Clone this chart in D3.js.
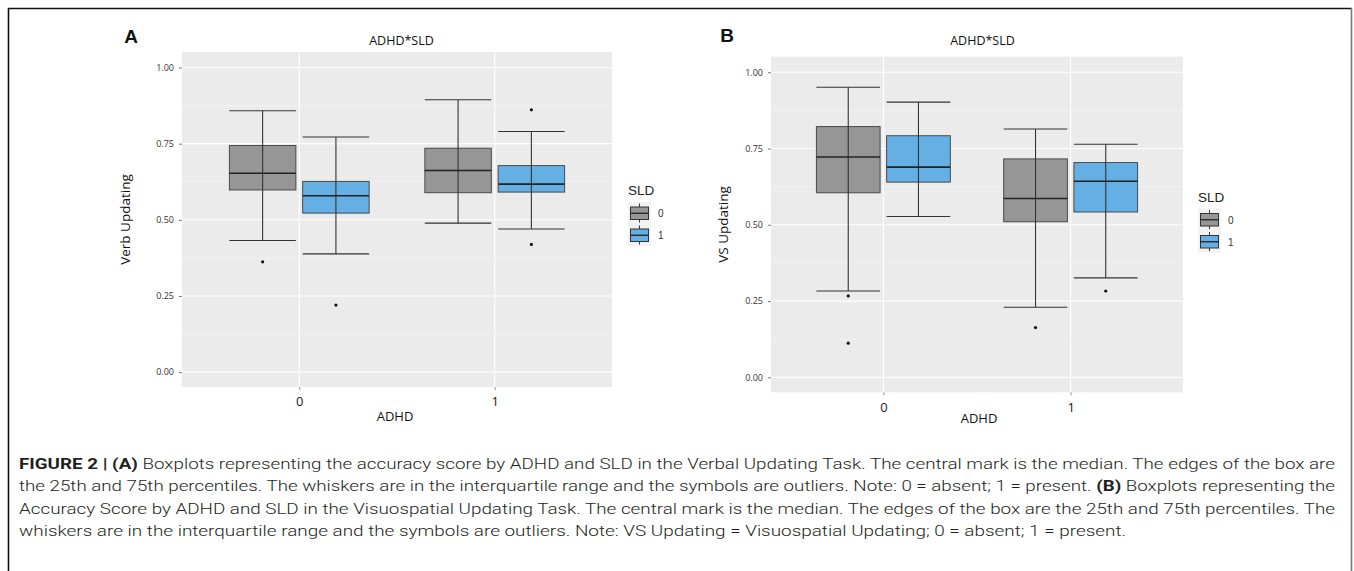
<!DOCTYPE html>
<html><head><meta charset="utf-8">
<script src="https://cdn.jsdelivr.net/npm/d3@7"></script>
<style>body{margin:0;background:#fff;} svg{display:block;}</style>
</head><body>
<svg id="fig" width="1354" height="571"></svg>
<script>
// ---------- data ----------
const adhdLevels = ["0", "1"];
const sldLevels = ["0", "1"];
const groupADHD = ["0", "0", "1", "1"];
const groupSLD  = ["0", "1", "0", "1"];

// Panel A: Verbal Updating
const verbWhiskerLow  = [0.432, 0.388, 0.489, 0.470];
const verbQ1          = [0.598, 0.522, 0.589, 0.591];
const verbMedian      = [0.653, 0.579, 0.662, 0.617];
const verbQ3          = [0.744, 0.626, 0.735, 0.678];
const verbWhiskerHigh = [0.858, 0.772, 0.894, 0.790];
const verbOutliers    = [[0.362], [0.220], [], [0.861, 0.419]];

// Panel B: Visuospatial Updating
const vsWhiskerLow  = [0.283, 0.527, 0.230, 0.326];
const vsQ1          = [0.605, 0.640, 0.510, 0.542];
const vsMedian      = [0.722, 0.689, 0.586, 0.643];
const vsQ3          = [0.822, 0.792, 0.716, 0.704];
const vsWhiskerHigh = [0.951, 0.902, 0.814, 0.764];
const vsOutliers    = [[0.267, 0.112], [], [0.163], [0.283]];

const yTickValues = [0, 0.25, 0.5, 0.75, 1];
const yMinorValues = [0.125, 0.375, 0.625, 0.875];
const sldColors = ["#969696", "#64afe3"];

const captionLines = [
  [["FIGURE 2 | ", true], ["(A)", true], [" Boxplots representing the accuracy score by ADHD and SLD in the Verbal Updating Task. The central mark is the median. The edges of the box are", false]],
  [["the 25th and 75th percentiles. The whiskers are in the interquartile range and the symbols are outliers. Note: 0 = absent; 1 = present. ", false], ["(B)", true], [" Boxplots representing the", false]],
  [["Accuracy Score by ADHD and SLD in the Visuospatial Updating Task. The central mark is the median. The edges of the box are the 25th and 75th percentiles. The", false]],
  [["whiskers are in the interquartile range and the symbols are outliers. Note: VS Updating = Visuospatial Updating; 0 = absent; 1 = present.", false]]
];

// ---------- drawing ----------
const svg = d3.select("#fig");

// outer frame
svg.append("path").attr("d", "M8.5,575 V8.5 H1351.5").attr("fill", "none").attr("stroke", "#111").attr("stroke-width", 1.6);
svg.append("line").attr("x1", 1351.5).attr("x2", 1351.5).attr("y1", 8.5).attr("y2", 575).attr("stroke", "#777").attr("stroke-width", 1.6);

function drawPanel(cfg) {
  const x = d3.scalePoint().domain(adhdLevels).range([cfg.left, cfg.right]).padding(0.6);
  const y = d3.scaleLinear().domain([-0.049, 1.051]).range([cfg.bottom, cfg.top]);
  const step = x.step();
  const g = svg.append("g");

  // panel background
  g.append("rect").attr("x", cfg.left).attr("y", cfg.top)
    .attr("width", cfg.right - cfg.left).attr("height", cfg.bottom - cfg.top).attr("fill", "#ebebeb");
  // minor grid
  g.selectAll(".minor").data(yMinorValues).join("line")
    .attr("x1", cfg.left).attr("x2", cfg.right)
    .attr("y1", d => y(d)).attr("y2", d => y(d))
    .attr("stroke", "#f6f6f6").attr("stroke-width", 0.6);
  // major grid
  g.selectAll(".major").data(yTickValues).join("line")
    .attr("x1", cfg.left).attr("x2", cfg.right)
    .attr("y1", d => y(d)).attr("y2", d => y(d))
    .attr("stroke", "#fff").attr("stroke-width", 1.1);
  g.selectAll(".vmajor").data(adhdLevels).join("line")
    .attr("x1", d => x(d)).attr("x2", d => x(d))
    .attr("y1", cfg.top).attr("y2", cfg.bottom)
    .attr("stroke", "#fff").attr("stroke-width", 1.1);

  // axes
  const ya = g.append("g").attr("transform", `translate(${cfg.left},0)`)
    .call(d3.axisLeft(y).tickValues(yTickValues).tickFormat(d3.format(".2f")).tickSize(3).tickPadding(5));
  ya.select(".domain").remove();
  ya.selectAll("line").attr("stroke", "#555").attr("stroke-width", 0.8);
  ya.selectAll("text").attr("font-family", "Open Sans").attr("font-size", 9).attr("fill", "#333");

  const xa = g.append("g").attr("transform", `translate(0,${cfg.bottom})`)
    .call(d3.axisBottom(x).tickSize(3).tickPadding(7));
  xa.select(".domain").remove();
  xa.selectAll("line").attr("stroke", "#777").attr("stroke-width", 0.8);
  xa.selectAll("text").attr("font-family", "Open Sans").attr("font-size", 13).attr("fill", "#1a1a1a");

  // boxes
  const off = 0.1875 * step, hw = 0.17 * step;
  const idx = d3.range(groupADHD.length);
  const cx = i => x(groupADHD[i]) + (groupSLD[i] === "0" ? -off : off);
  const col = i => sldColors[sldLevels.indexOf(groupSLD[i])];

  idx.forEach(i => {
    const c = cx(i);
    const bg = g.append("g");
    bg.append("rect").attr("x", c - hw).attr("width", 2 * hw)
      .attr("y", y(cfg.q3[i])).attr("height", y(cfg.q1[i]) - y(cfg.q3[i]))
      .attr("fill", col(i)).attr("stroke", "#4a4a4a").attr("stroke-width", 1);
    bg.append("line").attr("x1", c).attr("x2", c)
      .attr("y1", y(cfg.wl[i])).attr("y2", y(cfg.wh[i]))
      .attr("stroke", "#333").attr("stroke-width", 1.1);
    [cfg.wl[i], cfg.wh[i]].forEach(v => {
      bg.append("line").attr("x1", c - hw).attr("x2", c + hw)
        .attr("y1", y(v)).attr("y2", y(v)).attr("stroke", "#333").attr("stroke-width", 1.1);
    });
    bg.append("line").attr("x1", c - hw).attr("x2", c + hw)
      .attr("y1", y(cfg.med[i])).attr("y2", y(cfg.med[i]))
      .attr("stroke", "#222").attr("stroke-width", 1.6);
    bg.selectAll("circle").data(cfg.out[i]).join("circle")
      .attr("cx", c).attr("cy", d => y(d)).attr("r", 1.6).attr("fill", "#111");
  });

  // titles
  svg.append("text").attr("x", cfg.titleX).attr("y", 44.5).attr("text-anchor", "middle")
    .attr("font-family", "Open Sans").attr("font-size", 12.5).attr("fill", "#111")
    .text("ADHD*SLD");
  svg.append("text").attr("x", cfg.letterX).attr("y", cfg.letterY).attr("text-anchor", "middle")
    .attr("font-family", "Liberation Sans").attr("font-size", 19).attr("font-weight", "bold").attr("fill", "#111")
    .text(cfg.letter);
  svg.append("text").attr("transform", `translate(${cfg.ylabX},${(cfg.top + cfg.bottom) / 2}) rotate(-90)`)
    .attr("text-anchor", "middle").attr("font-family", "Open Sans").attr("font-size", 13.5).attr("fill", "#111")
    .text(cfg.ylab);
  svg.append("text").attr("x", cfg.xlabX).attr("y", cfg.xlabY).attr("text-anchor", "middle")
    .attr("font-family", "Open Sans").attr("font-size", 13).attr("fill", "#111")
    .text("ADHD");

  // legend
  const lg = svg.append("g").attr("transform", `translate(${cfg.legX},${cfg.legY})`);
  lg.append("text").attr("x", 0).attr("y", -7).attr("font-family", "Liberation Sans").attr("font-size", 13.5)
    .attr("fill", "#222").text("SLD");
  lg.append("rect").attr("x", 0).attr("y", 0).attr("width", 23).attr("height", 44).attr("fill", "#f2f2f2");
  sldLevels.forEach((s, k) => {
    const ty = k * 22;
    lg.append("line").attr("x1", 11.5).attr("x2", 11.5).attr("y1", ty + 1.5).attr("y2", ty + 20.5)
      .attr("stroke", "#333").attr("stroke-width", 1);
    lg.append("rect").attr("x", 2.5).attr("y", ty + 5).attr("width", 18).attr("height", 12.5)
      .attr("fill", sldColors[k]).attr("stroke", "#333").attr("stroke-width", 1);
    lg.append("line").attr("x1", 2.5).attr("x2", 20.5).attr("y1", ty + 11.25).attr("y2", ty + 11.25)
      .attr("stroke", "#222").attr("stroke-width", 1.3);
    lg.append("text").attr("x", 30).attr("y", ty + 15).attr("font-family", "Liberation Sans")
      .attr("font-size", 10).attr("fill", "#333").text(s);
  });
}

drawPanel({
  left: 182, right: 612, top: 52, bottom: 387,
  wl: verbWhiskerLow, q1: verbQ1, med: verbMedian, q3: verbQ3, wh: verbWhiskerHigh, out: verbOutliers,
  ylab: "Verb Updating", letter: "A", letterX: 131, letterY: 43,
  titleX: 401.5, ylabX: 129.5, xlabX: 395, xlabY: 421,
  legX: 628, legY: 202
});
drawPanel({
  left: 771, right: 1183, top: 56.7, bottom: 392.3,
  wl: vsWhiskerLow, q1: vsQ1, med: vsMedian, q3: vsQ3, wh: vsWhiskerHigh, out: vsOutliers,
  ylab: "VS Updating", letter: "B", letterX: 727, letterY: 41.5,
  titleX: 982.5, ylabX: 727.5, xlabX: 979, xlabY: 422.5,
  legX: 1198, legY: 208.5
});

// caption
const capW = [1316, 1316, 1316, 1107];
captionLines.forEach((segs, li) => {
  const t = svg.append("text").attr("x", 19).attr("y", 468.5 + li * 22.5)
    .attr("font-family", "Roboto").attr("font-size", 15.5).attr("font-weight", 300).attr("fill", "#231f20")
    .attr("textLength", capW[li]).attr("lengthAdjust", "spacingAndGlyphs");
  segs.forEach(([txt, bold]) => {
    t.append("tspan").attr("font-weight", bold ? 700 : 300).text(txt);
  });
});
</script>
</body></html>
